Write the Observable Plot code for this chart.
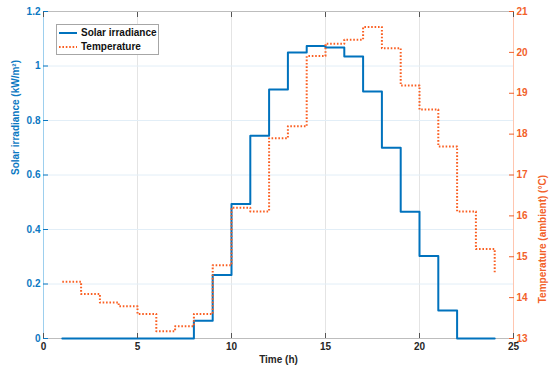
<!DOCTYPE html>
<html><head><meta charset="utf-8">
<script src="https://cdn.jsdelivr.net/npm/d3@7"></script>
<script src="https://cdn.jsdelivr.net/npm/@observablehq/plot@0.6"></script>
<style>
body{margin:0;background:#fff;font-family:"Liberation Sans",Arial,sans-serif;}
#wrap{position:relative;width:550px;height:374px;}
#legend{position:absolute;left:56px;top:24px;width:101px;height:29px;border:1px solid #a6a6a6;background:#fff;font:bold 10px "Liberation Sans",Arial,sans-serif;color:#111;}
#legend div{height:13px;line-height:13px;display:flex;align-items:center;margin-top:1px;}
#legend svg{margin-left:2px;margin-right:4px;}
</style>
</head><body><div id="wrap"><div id="chart"></div><div id="legend"></div></div>
<script>
const hours = [1,2,3,4,5,6,7,8,9,10,11,12,13,14,15,16,17,18,19,20,21,22,23,24];
const irradiance = [0,0,0,0,0,0,0,0.065,0.233,0.494,0.744,0.914,1.05,1.073,1.068,1.035,0.906,0.70,0.465,0.303,0.103,0,0,0];
const temperature = [14.39,14.09,13.88,13.79,13.60,13.18,13.30,13.60,14.79,16.20,16.11,17.90,18.19,19.91,20.21,20.31,20.62,20.10,19.19,18.60,17.70,16.11,15.19,14.58];
const xTicks = [0,5,10,15,20,25];
const leftTicks = [0,0.2,0.4,0.6,0.8,1,1.2];
const rightTicks = [13,14,15,16,17,18,19,20,21];
const seriesNames = ["Solar irradiance","Temperature"];
const xLabel = "Time (h)";
const leftLabel = "Solar irradiance (kW/m²)";
const rightLabel = "Temperature (ambient) (°C)";

const blue = "#0072BD", orange = "#FA5F22";
const blueText = "#0B78C2", orangeText = "#F2612A";
const tMin = 13, tMax = 21, yMax = 1.2;
const toLeft = t => (t - tMin) / (tMax - tMin) * yMax;

const irrData = hours.map((h,i)=>({h, v: irradiance[i]}));
const tempData = hours.map((h,i)=>({h, v: toLeft(temperature[i])}));

const plot = Plot.plot({
  width: 550, height: 374,
  marginLeft: 43, marginRight: 37, marginTop: 11, marginBottom: 36,
  style: {fontFamily: '"Liberation Sans", Arial, sans-serif', fontSize: "10px", fontWeight: "bold", background: "#fff"},
  x: {domain: [0,25], label: null},
  y: {domain: [0,1.2], label: null},
  marks: [
    Plot.gridX(xTicks.slice(1,-1), {stroke: "#e4e4e4", strokeOpacity: 1}),
    Plot.gridY(leftTicks.slice(1,-1), {stroke: "#e2eef7", strokeOpacity: 1}),
    Plot.ruleY([1.2], {stroke: "#bdbdbd"}),
    Plot.ruleY([0], {stroke: "#bdbdbd"}),
    Plot.ruleX([0], {stroke: "#9dcfee"}),
    Plot.ruleX([25], {stroke: "#ffc6b0"}),
    Plot.line(irrData, {x: "h", y: "v", curve: "step-after", stroke: blue, strokeWidth: 2}),
    Plot.line(tempData, {x: "h", y: "v", curve: "step-after", stroke: orange, strokeWidth: 2, strokeDasharray: "1.6,1.8", strokeLinecap: "butt"}),
    Plot.axisX(xTicks, {anchor: "bottom", label: null, tickSize: -5, tickPadding: 9, stroke: "#555", fill: "#262626"}),
    Plot.axisX(xTicks, {anchor: "top", label: null, tickSize: -5, tickFormat: () => "", stroke: "#555"}),
    Plot.axisY(leftTicks, {anchor: "left", label: null, tickSize: -5, tickPadding: 8, stroke: blueText, fill: blueText, tickFormat: d => d}),
    Plot.axisY(rightTicks.map(toLeft), {anchor: "right", label: null, tickSize: -5, tickPadding: 8, stroke: orangeText, fill: orangeText, tickFormat: d => String(Math.round(d / yMax * (tMax - tMin) + tMin))}),
    Plot.text([xLabel], {frameAnchor: "bottom", dy: 24, fill: "#262626", fontSize: 10, fontWeight: "bold"}),
    Plot.text([leftLabel], {frameAnchor: "left", rotate: -90, dx: -28, fill: blueText, fontSize: 10, fontWeight: "bold"}),
    Plot.text([rightLabel], {frameAnchor: "right", rotate: -90, dx: 29, fill: orangeText, fontSize: 10, fontWeight: "bold"})
  ]
});
document.getElementById("chart").appendChild(plot);

const legend = d3.select("#legend");
const styles = [{stroke: blue, dash: null}, {stroke: orange, dash: "1.6,1.8"}];
seriesNames.forEach((name, i) => {
  const row = legend.append("div");
  const s = row.append("svg").attr("width", 18).attr("height", 6);
  s.append("line").attr("x1", 0).attr("x2", 18).attr("y1", 3).attr("y2", 3)
    .attr("stroke", styles[i].stroke).attr("stroke-width", 2)
    .attr("stroke-dasharray", styles[i].dash);
  row.append("span").text(name);
});
</script>
</body></html>
